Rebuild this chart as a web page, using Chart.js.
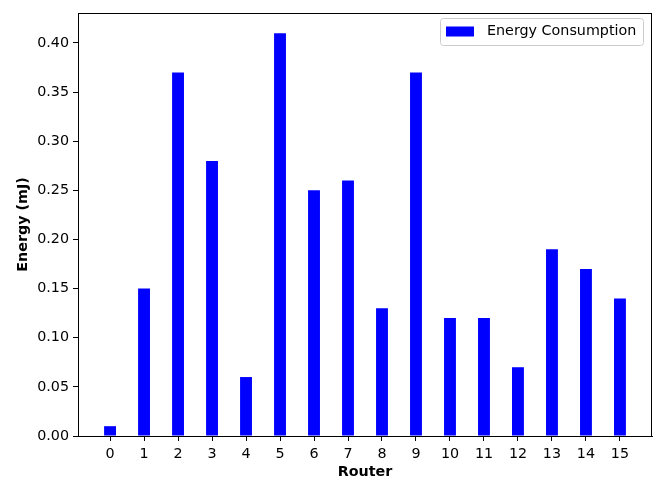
<!DOCTYPE html>
<html>
<head>
<meta charset="utf-8">
<script src="https://cdn.jsdelivr.net/npm/chart.js@4"></script>
<style>
html,body{margin:0;padding:0;background:#fff;}
#wrap{width:658px;height:480px;}
</style>
</head>
<body>
<div id="wrap"><canvas id="c" width="658" height="480"></canvas></div>
<script>
const routers = [0,1,2,3,4,5,6,7,8,9,10,11,12,13,14,15];
const energy = [0.01,0.15,0.37,0.28,0.06,0.41,0.25,0.26,0.13,0.37,0.12,0.12,0.07,0.19,0.17,0.14];
const xTicks = [0,1,2,3,4,5,6,7,8,9,10,11,12,13,14,15];
const yTicks = [0,0.05,0.10,0.15,0.20,0.25,0.30,0.35,0.40];
const seriesLabel = 'Energy Consumption';
const xTitle = 'Router';
const yTitle = 'Energy (mJ)';

const FONT = 'DejaVu Sans';
const FS = 14.3;

const frame = {
  id: 'frame',
  afterDraw(chart) {
    const ctx = chart.ctx, a = chart.chartArea;
    ctx.save();
    ctx.strokeStyle = '#000';
    ctx.lineWidth = 1;
    ctx.strokeRect(Math.round(a.left)+0.5, Math.round(a.top)+0.5, Math.round(a.right-a.left)-1, Math.round(a.bottom-a.top));
    // legend
    const ds = chart.data.datasets[0];
    const bx = 440.5, by = 18.5, bw = 203, bh = 27, r = 3;
    ctx.beginPath();
    ctx.moveTo(bx+r, by);
    ctx.lineTo(bx+bw-r, by); ctx.quadraticCurveTo(bx+bw, by, bx+bw, by+r);
    ctx.lineTo(bx+bw, by+bh-r); ctx.quadraticCurveTo(bx+bw, by+bh, bx+bw-r, by+bh);
    ctx.lineTo(bx+r, by+bh); ctx.quadraticCurveTo(bx, by+bh, bx, by+bh-r);
    ctx.lineTo(bx, by+r); ctx.quadraticCurveTo(bx, by, bx+r, by);
    ctx.closePath();
    ctx.fillStyle = 'rgba(255,255,255,0.8)';
    ctx.fill();
    ctx.strokeStyle = '#cccccc';
    ctx.stroke();
    ctx.fillStyle = ds.backgroundColor;
    ctx.fillRect(446, 26.5, 28, 10);
    ctx.fillStyle = '#000';
    ctx.font = FS + 'px "' + FONT + '"';
    ctx.textBaseline = 'middle';
    ctx.textAlign = 'left';
    ctx.fillText(ds.label, 487, 31.5);
    ctx.restore();
  }
};

new Chart(document.getElementById('c'), {
  type: 'bar',
  data: {
    datasets: [{
      label: seriesLabel,
      data: routers.map((r, i) => ({x: r, y: energy[i]})),
      backgroundColor: '#0000ff',
      borderColor: '#0000ff',
      borderWidth: 0,
      barPercentage: 0.35,
      categoryPercentage: 1.0
    }]
  },
  options: {
    responsive: false,
    animation: false,
    devicePixelRatio: 1,
    layout: {padding: {top: 13, right: 6, left: 0, bottom: 0}},
    plugins: {legend: {display: false}, tooltip: {enabled: false}},
    scales: {
      x: {
        type: 'linear',
        min: -0.9425,
        max: 15.9425,
        offset: false,
        afterBuildTicks(s) { s.ticks = xTicks.map(v => ({value: v})); },
        afterFit(s) { s.height = 44; },
        grid: {offset: false, drawOnChartArea: false, drawTicks: true, tickLength: 5, tickColor: '#000', tickWidth: 1},
        border: {display: true, color: '#000', width: 1},
        ticks: {color: '#000', font: {family: FONT, size: FS}, padding: 5, maxRotation: 0, autoSkip: false,
                callback: v => String(v)},
        title: {display: true, text: xTitle, color: '#000', font: {family: FONT, size: FS, weight: 'bold'}, padding: {top: 0, bottom: -1}}
      },
      y: {
        type: 'linear',
        min: 0,
        max: 0.4305,
        afterBuildTicks(s) { s.ticks = yTicks.map(v => ({value: v})); },
        afterFit(s) { s.width = 78; },
        grid: {offset: false, drawOnChartArea: false, drawTicks: true, tickLength: 5, tickColor: '#000', tickWidth: 1},
        border: {display: true, color: '#000', width: 1},
        ticks: {color: '#000', font: {family: FONT, size: FS}, padding: 4, autoSkip: false,
                callback: v => Number(v).toFixed(2)},
        title: {display: true, text: yTitle, color: '#000', font: {family: FONT, size: FS, weight: 'bold'}, padding: {top: 15, bottom: 0}}
      }
    }
  },
  plugins: [frame]
});
</script>
</body>
</html>
